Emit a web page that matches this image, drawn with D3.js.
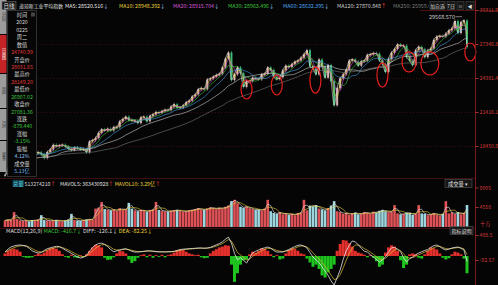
<!DOCTYPE html>
<html>
<head>
<meta charset="utf-8">
<script src="https://cdn.jsdelivr.net/npm/d3@7"></script>
<style>
  body { margin: 0; background: #050505; }
  svg { display: block; font-family: "Noto Sans CJK SC", "Noto Sans", sans-serif; }
</style>
</head>
<body>
<div id="chart"></div>
<script>
// Dow Jones daily chart, one value per ~6-7 trading days (Feb 2016 .. Feb 25 2020)
const closes = [
  15900, 16500,
  17000, 17500, 17680, 17700, 17900, 17990, 17700, 17530, 17850,
  17900, 17730, 17400, 17930, 18150, 18550, 18430, 18500, 18550, 18400,
  18200, 18100, 18300, 18250, 18150, 18160, 17900, 18850, 18950, 19150,
  19600, 19900, 19800,
  19950, 19800, 20100, 20100, 20600, 20800, 21000, 20700, 20650, 20650,
  20450, 20950, 21000, 20600, 21080, 21200, 21400, 21350, 21500, 21600,
  21580, 21890, 22090, 21800, 21810, 21990, 22270, 22400, 22770, 22950,
  23400, 23500, 23400, 24250, 24330, 24500, 24650, 24750,
  25300, 26070, 26600, 24200, 24700, 25300, 24800, 23600, 24100, 24100,
  24400, 24310, 24260, 24700, 24750, 25300, 25090, 24460, 24270, 24450,
  25050, 25450, 25330, 25600, 25800, 25900, 26150, 26450, 26800, 25400,
  25200, 24690, 25990, 25400, 24400, 25500, 24100, 22000,
  23500, 24350, 24700, 25100, 25900, 26000, 25800, 25450, 25850, 25900,
  26400, 26450, 26550, 26500, 25900, 25600, 24900, 26050, 26600, 26900,
  27300, 27200, 27200, 26200, 25900, 25500, 26800, 27100, 26900, 26200,
  26800, 26950, 27700, 28000, 28050, 28000, 28250, 28540,
  28700, 29350, 28300, 29250, 29400, 27081
];

// volume, unit 十万
const volumes = [
  1500, 1700, 1600, 3400, 1800, 1500, 1400, 1500, 1300, 1600,
  1500, 1700, 2700, 1600, 1500, 1400, 1500, 1600, 1400, 1300,
  1500, 1700, 3000, 1600, 1500, 1400, 1600, 1700, 1800, 1700,
  4200, 4400, 5700, 4100, 3900, 3800, 4000, 3700, 4300, 3900,
  4100, 5500, 4200, 3800, 3600, 3900, 3700, 3500, 3800, 4000,
  5700, 3900, 3700, 3600, 3500, 3700, 3800, 3900, 3700, 3500,
  3600, 3800, 3900, 4100, 4300, 4000, 3900, 4200, 4500, 4300,
  4100, 4400, 4200, 4600, 4900, 5900, 6200, 5400, 4600, 4400,
  4700, 4300, 4100, 3900, 4000, 3800, 4200, 6200, 3600, 3200,
  3000, 3400, 2900, 3100, 2800, 3000, 2700, 3200, 3300, 6200,
  3800, 4900, 4700, 5000, 4200, 4000, 3800, 4300, 4900, 5900,
  3600, 3400, 3000, 3200, 2800, 3100, 3300, 2900, 3000, 3400,
  3200, 3000, 3500, 3300, 3700, 3900, 3600, 3400, 3500, 5000,
  3100, 2900, 3000, 3300, 3200, 2800, 3000, 5000, 3100, 3000,
  2700, 2900, 3200, 2800, 2600, 3000, 5900, 3100, 3300, 3000,
  3400, 2900, 3200, 5000
];

// MACD DIFF line and histogram
const diffs = [
  93, 160, 210, 235, 250, 256, 245, 230, 180, 120,
  90, 70, 80, 130, 170, 190, 210, 225, 220, 180,
  140, 100, 60, 20, -20, -47, -30, 20, 110, 200,
  256, 290, 300, 270, 220, 150, 100, 120, 140, 160,
  170, 140, 110, 93, 93, 100, 110, 120, 120, 110,
  100, 95, 95, 95, 100, 100, 110, 130, 150, 160,
  165, 170, 175, 180, 186, 186, 180, 186, 200, 230,
  260, 290, 330, 390, 440, 300, 60, -90, -40, -100,
  -163, -50, 70, 110, 140, 170, 190, 209, 180, 130,
  93, 93, 93, 120, 150, 186, 220, 250, 256, 230,
  186, 80, -23, -90, -150, -250, -350, -450, -580, -674,
  -500, -325, -80, 120, 250, 350, 330, 260, 180, 110,
  93, 30, -23, -80, -140, -90, -20, 90, 190, 200,
  160, 100, -40, -140, -60, -23, 30, 70, 100, 130,
  150, 200, 240, 256, 220, 170, 140, 160, 186, 200,
  209, 180, 140, -126
];
const hists = [
  60, 120, 160, 170, 150, 100, -20, -40, -40, -30,
  20, 60, 40, 80, 140, 180, 190, 170, 120, 40,
  -20, -40, 30, -30, -40, 20, -20, 40, 120, 200,
  260, 250, 200, -40, -90, -80, -30, 60, 120, 110,
  60, -80, -160, -120, -40, 20, 40, -30, 30, -40,
  20, -20, 30, -30, 20, 40, 80, 130, 150, 140,
  100, 60, 40, 20, 30, -30, -50, -40, 60, 120,
  160, 200, 220, 250, 240, -200, -600, -400, -200, -100,
  -80, 40, 100, 80, 120, 180, 170, 120, 40, -30,
  20, -80, -60, 60, 140, 180, 170, 120, 60, 40,
  -60, -150, -250, -200, -300, -450, -500, -380, -300, -200,
  120, 280, 370, 360, 300, 220, 120, 80, 60, 30,
  -30, 20, -40, -120, -250, -200, 80, 200, 250, 220,
  120, -100, -280, -200, 40, 60, 40, -40, -60, 40,
  120, 200, 180, 150, 60, -40, -80, -50, 40, 100,
  80, 40, -60, -400
];

const priceTicks = [30311.9, 27346.8, 24381.4, 21416.1, 18450.9];
const volTicks = [9005, 4558];
const macdTicks = [488.5, -92.57];

const maNames  = ["MA5", "MA10", "MA20", "MA30", "MA60", "MA120", "MA250"];
const maValues = ["28520.516", "28948.392", "28915.704", "28963.496", "28632.395", "27870.848", "25959.6"];
const maArrows = ["↓", "↓", "↓", "↓", "↓", "↑", ""];
const maSpans  = [1, 2, 3, 5, 9, 18, 38];   // window in candles of this chart
const maColours = ["#e8e8e8", "#e8d13a", "#d957d9", "#3fc43f", "#4aa6ee", "#cfcfcf", "#7a7a7a"];
const maLabelX = [65, 119, 173, 228, 283, 337, 393];

const infoRows = [
  ["时间", "#d8d8d8"], ["2020", "#d8d8d8"], ["0225", "#d8d8d8"], ["周二", "#d8d8d8"],
  ["数值", "#d8d8d8"], ["24740.99", "#e33b3b"], ["开盘价", "#d8d8d8"], ["28031.65", "#e33b3b"],
  ["最高价", "#d8d8d8"], ["28149.20", "#e33b3b"], ["最低价", "#d8d8d8"], ["26907.02", "#3cc43c"],
  ["收盘价", "#d8d8d8"], ["27081.36", "#3cc43c"], ["涨跌", "#d8d8d8"], ["-879.440", "#3cc43c"],
  ["涨幅", "#d8d8d8"], ["-3.15%", "#3cc43c"], ["振幅", "#d8d8d8"], ["4.12%", "#8fc3ee"],
  ["成交量", "#d8d8d8"], ["5.13亿", "#6fb4ee"]
];

const tabs = [
  {name: "分时", y0: 0, y1: 34, on: false},
  {name: "日K线", y0: 35, y1: 73, on: true},
  {name: "周K", y0: 74, y1: 108, on: false},
  {name: "月K", y0: 109, y1: 140, on: false},
  {name: "更多", y0: 141, y1: 172, on: false}
];

// hand drawn red rings: candle index, price, radii
const rings = [
  {i: 80, p: 23380, rx: 5.5, ry: 9.5},
  {i: 90, p: 23770, rx: 5.5, ry: 10},
  {i: 102.8, p: 24200, rx: 5.5, ry: 13},
  {i: 125, p: 24640, rx: 5.5, ry: 12},
  {i: 133.8, p: 25780, rx: 7, ry: 10},
  {i: 140.7, p: 25650, rx: 9, ry: 11.5},
  {i: 154.1, p: 26650, rx: 5.5, ry: 9}
];

const W = 498, H = 285;
const n = closes.length;

const svg = d3.select("#chart").append("svg")
    .attr("width", W)
    .attr("height", H);

svg.append("rect").attr("width", W).attr("height", H).attr("fill", "#050505");

const x  = d3.scaleLinear().domain([0, n - 1]).range([5, 467]);
const yP = d3.scaleLinear().domain([18450.9, 30311.9]).range([146, 10]);
const yV = d3.scaleLinear().domain([0, 4558]).range([227, 207]);
const yM = d3.scaleLinear().domain([-92.57, 488.5]).range([260, 235]);

const opens = closes.map((c, i) => i ? closes[i - 1] : c);
const isUp = closes.map((c, i) => c >= opens[i]);

const defs = svg.append("defs");
defs.append("clipPath").attr("id", "clipPrice")
  .append("rect").attr("x", 0).attr("y", 11).attr("width", 475).attr("height", 167);
defs.append("clipPath").attr("id", "clipMacd")
  .append("rect").attr("x", 0).attr("y", 236).attr("width", 475).attr("height", 49);
defs.append("clipPath").attr("id", "clipTitle")
  .append("rect").attr("x", 0).attr("y", 0).attr("width", 429).attr("height", 11);

// grid / separators
svg.append("g").selectAll("line")
  .data(priceTicks.slice(1))
  .join("line")
    .attr("x1", 5).attr("x2", 475)
    .attr("y1", d => Math.round(yP(d)) + 0.5)
    .attr("y2", d => Math.round(yP(d)) + 0.5)
    .attr("stroke", "#3a0d0d")
    .attr("stroke-dasharray", "1,2");

[178.5, 228.5].forEach(yy => {
  svg.append("line").attr("x1", 0).attr("x2", 475).attr("y1", yy).attr("y2", yy)
    .attr("stroke", "#4a1212").attr("stroke-width", 0.8);
});
svg.append("line").attr("x1", 420).attr("x2", 498).attr("y1", 10.5).attr("y2", 10.5)
  .attr("stroke", "#5a1414").attr("stroke-width", 0.8);

// ---- price panel
const gP = svg.append("g").attr("clip-path", "url(#clipPrice)");

gP.append("g").selectAll("line")
  .data(closes)
  .join("line")
    .attr("x1", (_, i) => x(i)).attr("x2", (_, i) => x(i))
    .attr("y1", (d, i) => yP(Math.max(d, opens[i])) - 1.5)
    .attr("y2", (d, i) => yP(Math.min(d, opens[i])) + 1.5)
    .attr("stroke", (_, i) => isUp[i] ? "#e2b4b4" : "#3fc47a")
    .attr("stroke-width", 0.6);

gP.append("g").selectAll("rect")
  .data(closes)
  .join("rect")
    .attr("x", (_, i) => x(i) - 1)
    .attr("width", 2)
    .attr("y", (d, i) => yP(Math.max(d, opens[i])))
    .attr("height", (d, i) => Math.max(0.8, Math.abs(yP(d) - yP(opens[i]))))
    .attr("fill", (_, i) => isUp[i] ? "#e6c0c0" : "#3fc47a")
    .attr("opacity", 0.9);

const movingAvg = (arr, span) => arr.map((_, i) => d3.mean(arr.slice(Math.max(0, i - span + 1), i + 1)));

maSpans.forEach((span, k) => {
  const ma = movingAvg(closes, span);
  gP.append("path")
    .datum(ma)
    .attr("fill", "none")
    .attr("stroke", maColours[k])
    .attr("stroke-width", 0.7)
    .attr("opacity", 0.85)
    .attr("d", d3.line().x((_, i) => x(i)).y(d => yP(d)).curve(d3.curveMonotoneX));
});

// rings
svg.append("g").selectAll("ellipse")
  .data(rings)
  .join("ellipse")
    .attr("cx", d => x(d.i))
    .attr("cy", d => yP(d.p))
    .attr("rx", d => d.rx)
    .attr("ry", d => d.ry)
    .attr("fill", "none")
    .attr("stroke", "#e5201d")
    .attr("stroke-width", 1.2);

// peak label
const peakIdx = d3.maxIndex(closes);
svg.append("text")
  .attr("x", x(peakIdx) - 9).attr("y", yP(29568.57))
  .attr("text-anchor", "end")
  .attr("font-size", 5.5).attr("fill", "#cfcfcf")
  .text("29568.570");
svg.append("line")
  .attr("x1", x(peakIdx) - 8.5).attr("x2", x(peakIdx) - 2)
  .attr("y1", yP(29568.57) - 1.8).attr("y2", yP(29568.57) - 1.8)
  .attr("stroke", "#cfcfcf").attr("stroke-width", 0.6);

// ---- volume panel
svg.append("g").selectAll("rect")
  .data(volumes)
  .join("rect")
    .attr("x", (_, i) => x(i) - 1.3)
    .attr("width", 2.6)
    .attr("y", d => yV(d))
    .attr("height", d => yV(0) - yV(d))
    .attr("fill", (_, i) => isUp[i] ? "#de5257" : "#9dd6df");

[[2, "#e8e8e8"], [4, "#e8d13a"]].forEach(([span, col]) => {
  svg.append("path")
    .datum(movingAvg(volumes, span))
    .attr("fill", "none")
    .attr("stroke", col)
    .attr("stroke-width", 0.6)
    .attr("d", d3.line().x((_, i) => x(i)).y(d => yV(d)));
});

// ---- MACD panel
const deas = [];
diffs.forEach((d, i) => deas.push(i ? deas[i - 1] + 0.45 * (d - deas[i - 1]) : d));

const gM = svg.append("g").attr("clip-path", "url(#clipMacd)");
gM.append("g").selectAll("rect")
  .data(hists)
  .join("rect")
    .attr("x", (_, i) => x(i) - 1.5)
    .attr("width", 3)
    .attr("y", d => Math.min(yM(d), yM(0)))
    .attr("height", d => Math.abs(yM(d) - yM(0)))
    .attr("fill", d => d >= 0 ? "#e4302c" : "#1fc41f");

gM.append("path")
  .datum(deas)
  .attr("fill", "none").attr("stroke", "#e0c036").attr("stroke-width", 0.7)
  .attr("d", d3.line().x((_, i) => x(i)).y(d => yM(d)));
gM.append("path")
  .datum(diffs)
  .attr("fill", "none").attr("stroke", "#e6e6e6").attr("stroke-width", 0.8)
  .attr("d", d3.line().x((_, i) => x(i)).y(d => yM(d)));

// ---- right axes
const axisStyle = g => {
  g.select(".domain").attr("stroke", "#7a1a1a");
  g.selectAll(".tick line").attr("stroke", "#b02a2a");
  g.selectAll(".tick text").attr("fill", "#d23a3a").attr("font-size", 5.2)
    .attr("font-family", "\"Noto Sans CJK SC\", sans-serif");
};
svg.append("g").attr("transform", "translate(475.5,0)")
  .call(d3.axisRight(yP).tickValues(priceTicks).tickFormat(d3.format(".1f")).tickSize(3).tickPadding(1))
  .call(g => g.select(".domain").attr("d", "M0,0V285"))
  .call(axisStyle);
svg.append("g").attr("transform", "translate(475.5,0)")
  .call(d3.axisRight(yV).tickValues(volTicks).tickFormat(d3.format("d")).tickSize(3).tickPadding(1))
  .call(g => g.select(".domain").remove())
  .call(axisStyle);
svg.append("g").attr("transform", "translate(475.5,0)")
  .call(d3.axisRight(yM).tickValues(macdTicks).tickFormat(d => String(d)).tickSize(3).tickPadding(1))
  .call(g => g.select(".domain").remove())
  .call(axisStyle);
svg.append("text").attr("x", 480).attr("y", 226).attr("font-size", 5.2)
  .attr("fill", "#d23a3a").text("十万");

// ---- left tabs + info panel
const tabG = svg.append("g").selectAll("g").data(tabs).join("g");
tabG.append("rect")
  .attr("x", 0).attr("y", d => d.y0).attr("width", 6.5).attr("height", d => d.y1 - d.y0)
  .attr("fill", d => d.on ? "#c42426" : "#9c9c9c");
tabG.append("text")
  .attr("x", 3.3).attr("y", d => (d.y0 + d.y1) / 2)
  .attr("text-anchor", "middle").attr("dominant-baseline", "middle")
  .attr("writing-mode", "vertical-rl")
  .attr("font-size", 4.2)
  .attr("fill", d => d.on ? "#ffffff" : "#333")
  .text(d => d.name);

svg.append("rect")
  .attr("x", 7.5).attr("y", 10.5).attr("width", 29).attr("height", 166)
  .attr("fill", "#060606").attr("stroke", "#3c3c3c").attr("stroke-width", 0.8);
svg.append("rect").attr("x", 31).attr("y", 12.5).attr("width", 4).attr("height", 4)
  .attr("fill", "#444");
svg.append("g").selectAll("text")
  .data(infoRows)
  .join("text")
    .attr("x", 22).attr("y", (_, k) => 17 + k * 7.43)
    .attr("text-anchor", "middle")
    .attr("font-size", 5.2)
    .attr("fill", d => d[1])
    .text(d => d[0]);

// ---- title row
svg.append("rect").attr("x", 2).attr("y", 1.5).attr("width", 14).attr("height", 8)
  .attr("fill", "#1a1a1a").attr("stroke", "#6a6a6a").attr("stroke-width", 0.6);
svg.append("text").attr("x", 9).attr("y", 7.8).attr("text-anchor", "middle")
  .attr("font-size", 5.5).attr("fill", "#e0e0e0").text("日线");
svg.append("text").attr("x", 19).attr("y", 7.8)
  .attr("font-size", 4.9).attr("fill", "#e0e0e0").text("道琼斯工业平均指数");

const maLabel = svg.append("g").attr("clip-path", "url(#clipTitle)")
  .selectAll("text")
  .data(maNames)
  .join("text")
    .attr("x", (_, k) => maLabelX[k]).attr("y", 7.8)
    .attr("font-size", 5.3)
    .attr("fill", (_, k) => maColours[k]);
maLabel.append("tspan").text((d, k) => `${d}: ${maValues[k]}`);
maLabel.append("tspan")
  .attr("fill", (_, k) => maArrows[k] === "↑" ? "#e33b3b" : "#9fd0ff")
  .text((_, k) => maArrows[k]);

const buttons = [["加自选", 430, 15], ["7日", 447, 8], ["≡", 457, 7], ["◀", 466, 8]];
buttons.forEach(([t, bx, bw]) => {
  svg.append("rect").attr("x", bx).attr("y", 1.5).attr("width", bw).attr("height", 8)
    .attr("fill", "#151515").attr("stroke", "#555").attr("stroke-width", 0.5);
  svg.append("text").attr("x", bx + bw / 2).attr("y", 7.6).attr("text-anchor", "middle")
    .attr("font-size", 4.8).attr("fill", "#dcdcdc").text(t);
});

// ---- volume label row
svg.append("rect").attr("x", 12.5).attr("y", 179.8).attr("width", 11.5).attr("height", 7)
  .attr("fill", "#0f3f48");
const volLab = svg.append("text").attr("x", 13).attr("y", 185.6).attr("font-size", 5.2);
volLab.append("tspan").attr("fill", "#5fd3e6").text("总量 ");
volLab.append("tspan").attr("fill", "#dcdcdc").text("513274210");
volLab.append("tspan").attr("fill", "#e33b3b").text("↑");
const mavLab = svg.append("text").attr("x", 60).attr("y", 185.6).attr("font-size", 5.2);
mavLab.append("tspan").attr("fill", "#e0e0e0").text("MAVOL5: 363430928");
mavLab.append("tspan").attr("fill", "#e33b3b").text("↑ ");
mavLab.append("tspan").attr("fill", "#e8d13a").text("MAVOL10: 3.29亿");
mavLab.append("tspan").attr("fill", "#e33b3b").text("↑");

svg.append("rect").attr("x", 445).attr("y", 179.5).attr("width", 27).attr("height", 8)
  .attr("fill", "#151515").attr("stroke", "#666").attr("stroke-width", 0.5);
svg.append("text").attr("x", 448).attr("y", 185.6).attr("font-size", 5.2)
  .attr("fill", "#e0e0e0").text("成交量  ▾");

// ---- MACD label row
const macdLab = svg.append("text").attr("x", 6).attr("y", 233).attr("font-size", 5.4);
macdLab.append("tspan").attr("fill", "#dcdcdc").text("MACD(12,26,9) ");
macdLab.append("tspan").attr("fill", "#3cc43c").text("MACD: -416.7↓ ");
macdLab.append("tspan").attr("fill", "#dcdcdc").text("DIFF: -126.1↓ ");
macdLab.append("tspan").attr("fill", "#e8d13a").text("DEA: -82.25↓");

svg.append("rect").attr("x", 450).attr("y", 226.5).attr("width", 23).attr("height", 8)
  .attr("fill", "#151515").attr("stroke", "#666").attr("stroke-width", 0.5);
svg.append("text").attr("x", 461.5).attr("y", 232.6).attr("text-anchor", "middle")
  .attr("font-size", 5).attr("fill", "#e0e0e0").text("指标说明");
</script>
</body>
</html>
